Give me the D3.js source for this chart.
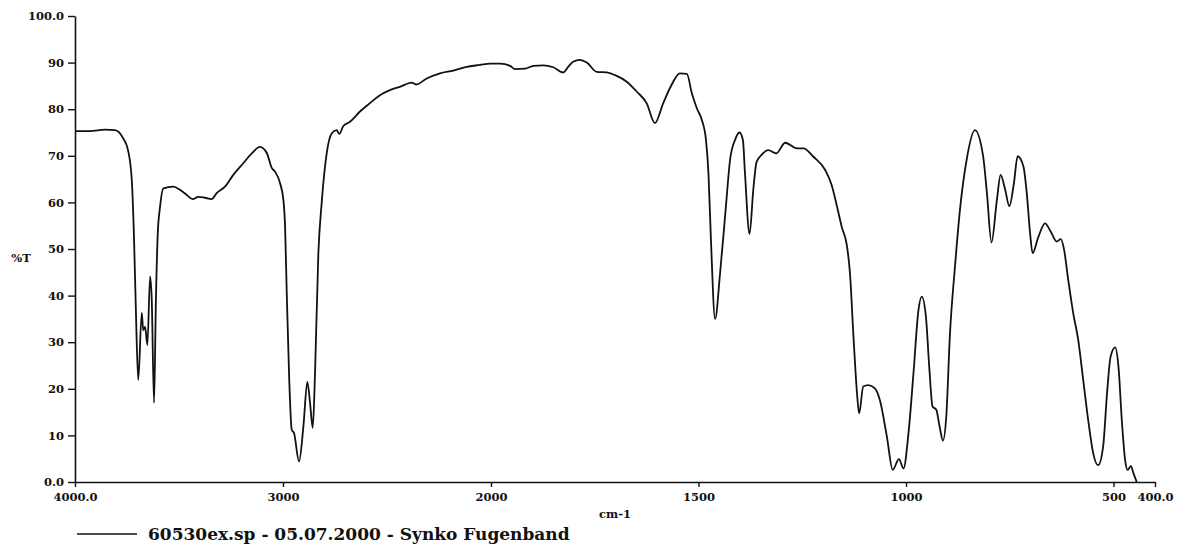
<!DOCTYPE html>
<html>
  <head>
    <title>IR Spektrum</title>
    <meta charset="utf-8" />
    <script src="https://d3js.org/d3.v7.min.js"></script>
    <style>
      body { margin: 0; background: #fff; }
    </style>
  </head>
  <body>
    <svg id="chart" width="1187" height="546"></svg>

    <script>
      // Spectrum (wavenumber in cm-1, %T)
      const wavenumbers = [
        4000, 3928, 3856, 3808, 3769, 3745, 3727, 3716, 3707, 3696, 3679, 3672,
        3663, 3652, 3639, 3631, 3620, 3611, 3602, 3591, 3575, 3527, 3495, 3463,
        3434, 3407, 3375, 3343, 3319, 3279, 3239, 3191, 3150, 3111, 3078, 3054,
        3038, 3014, 2998, 2990, 2982, 2970, 2958, 2947, 2923, 2902, 2883, 2870,
        2857, 2846, 2830, 2814, 2790, 2766, 2742, 2729, 2710, 2678, 2630, 2582,
        2534, 2486, 2438, 2381, 2360, 2309, 2245, 2181, 2117, 2053, 2005, 1978,
        1954, 1942, 1918, 1898, 1874, 1850, 1826, 1814, 1802, 1786, 1769, 1745,
        1721, 1701, 1673, 1649, 1625, 1605, 1585, 1565, 1545, 1528, 1516, 1504,
        1492, 1482, 1476, 1470, 1460, 1448, 1434, 1424, 1412, 1401, 1393, 1388,
        1377, 1368, 1360, 1348, 1332, 1313, 1291, 1263, 1247, 1223, 1195, 1179,
        1167, 1155, 1142, 1135, 1127, 1118, 1113, 1103, 1091, 1075, 1063, 1046,
        1032, 1017, 1006, 994, 982, 970, 962, 952, 944, 936, 927, 919,
        911, 903, 894, 882, 870, 854, 834, 814, 805, 794, 781, 772,
        761, 751, 740, 731, 717, 709, 701, 695, 681, 665, 651, 637,
        627, 619, 609, 597, 585, 573, 561, 549, 537, 525, 515, 507,
        496, 488, 480, 472, 466, 458, 452, 444
      ];
      const transmittance = [
        75.3, 75.3, 75.6, 75.5, 73.8, 71.2, 64.8, 51.9, 36.3, 21.9, 36.3, 32.6,
        33.3, 29.4, 44.1, 39.1, 17.0, 39.1, 53.4, 59.1, 63.0, 63.4, 62.7, 61.6,
        60.7, 61.2, 61.0, 60.7, 62.0, 63.4, 65.9, 68.4, 70.5, 71.9, 70.6, 67.4,
        66.6, 64.1, 60.5, 54.8, 40.6, 21.9, 11.2, 10.5, 4.4, 11.9, 21.5, 17.0,
        11.6, 23.4, 49.1, 59.9, 70.5, 74.8, 75.5, 74.7, 76.4, 77.3, 79.5, 81.3,
        83.0, 84.1, 84.8, 85.7, 85.3, 86.6, 87.7, 88.3, 89.1, 89.5, 89.8, 89.8,
        89.3, 88.6, 88.7, 89.3, 89.4, 89.0, 87.9, 89.1, 90.2, 90.6, 90.0, 88.0,
        87.9, 87.3, 85.9, 83.8, 81.3, 77.0, 81.3, 85.2, 87.7, 87.6, 83.4, 80.2,
        77.7, 73.4, 66.2, 51.9, 35.0, 44.8, 59.1, 69.1, 73.4, 75.0, 73.4, 66.2,
        53.2, 62.7, 68.7, 70.2, 71.2, 70.5, 72.8, 71.6, 71.6, 69.8, 67.0, 63.7,
        59.4, 54.8, 50.5, 44.8, 31.9, 19.0, 14.7, 20.5, 20.8, 20.1, 17.6, 9.7,
        2.6, 4.9, 2.9, 10.5, 23.3, 36.9, 39.8, 35.5, 24.7, 16.2, 15.5, 11.9,
        8.9, 14.0, 31.9, 46.2, 58.4, 69.1, 75.5, 69.8, 62.0, 51.4, 60.5, 65.9,
        62.7, 59.2, 64.1, 69.9, 67.7, 62.0, 53.4, 49.1, 52.6, 55.5, 53.7, 51.6,
        52.1, 49.8, 43.3, 36.2, 30.5, 21.9, 13.3, 6.2, 3.6, 7.6, 19.7, 26.9,
        28.9, 24.7, 13.3, 4.7, 2.6, 3.4, 1.9, 0.0
      ];

      // Axis ticks
      const xTicks = [4000, 3000, 2000, 1500, 1000, 500, 400];
      const yTicks = [0, 10, 20, 30, 40, 50, 60, 70, 80, 90, 100];
      const legendText = "60530ex.sp - 05.07.2000 - Synko Fugenband";

      const data = wavenumbers.map((w, i) => ({ w: w, t: transmittance[i] }));

      const svg = d3.select("#chart");
      const font = "'DejaVu Serif', serif";
      const margin = { top: 16, left: 75, bottom: 64 };

      // x scale: the printout doubles its scale below 2000 cm-1
      const xScale = d3
        .scaleLinear()
        .domain([4000, 2000, 400])
        .range([margin.left, 491, 1155]);
      const yScale = d3
        .scaleLinear()
        .domain([0, 100])
        .range([482, margin.top]);

      // Curve
      const line = d3
        .line()
        .x((d) => xScale(d.w))
        .y((d) => yScale(d.t))
        .curve(d3.curveMonotoneX);

      svg
        .append("path")
        .datum(data)
        .attr("fill", "none")
        .attr("stroke", "#111")
        .attr("stroke-width", 1.8)
        .attr("stroke-linejoin", "round")
        .attr("d", line);

      // x axis
      const xAxis = d3
        .axisBottom(xScale)
        .tickValues(xTicks)
        .tickSize(5)
        .tickSizeOuter(0)
        .tickPadding(6)
        .tickFormat((d) => (d === 4000 || d === 400 ? d.toFixed(1) : d));
      const gx = svg
        .append("g")
        .attr("transform", `translate(0,${yScale(0)})`)
        .call(xAxis);

      // y axis
      const yAxis = d3
        .axisLeft(yScale)
        .tickValues(yTicks)
        .tickSize(7)
        .tickSizeOuter(0)
        .tickPadding(4)
        .tickFormat((d) => (d === 0 || d === 100 ? d.toFixed(1) : d));
      const gy = svg
        .append("g")
        .attr("transform", `translate(${margin.left},0)`)
        .call(yAxis);

      [gx, gy].forEach((g) => {
        g.select(".domain").attr("stroke", "#111").attr("stroke-width", 1.6);
        g.selectAll(".tick line").attr("stroke", "#111").attr("stroke-width", 1.4);
        g.selectAll(".tick text")
          .attr("fill", "#111")
          .style("font-family", font)
          .style("font-weight", "bold")
          .style("font-size", "11.5px");
      });

      // Axis titles
      svg
        .append("text")
        .attr("x", 21)
        .attr("y", 262)
        .attr("text-anchor", "middle")
        .attr("fill", "#111")
        .style("font-family", font)
        .style("font-weight", "bold")
        .style("font-size", "11.5px")
        .text("%T");

      svg
        .append("text")
        .attr("x", 615)
        .attr("y", 518)
        .attr("text-anchor", "middle")
        .attr("fill", "#111")
        .style("font-family", font)
        .style("font-weight", "bold")
        .style("font-size", "11.5px")
        .text("cm-1");

      // Legend
      svg
        .append("line")
        .attr("x1", 77)
        .attr("x2", 137)
        .attr("y1", 534)
        .attr("y2", 534)
        .attr("stroke", "#111")
        .attr("stroke-width", 1.5);

      svg
        .append("text")
        .attr("x", 148)
        .attr("y", 540)
        .attr("fill", "#111")
        .style("font-family", font)
        .style("font-weight", "bold")
        .style("font-size", "17px")
        .text(legendText);
    </script>
  </body>
</html>
